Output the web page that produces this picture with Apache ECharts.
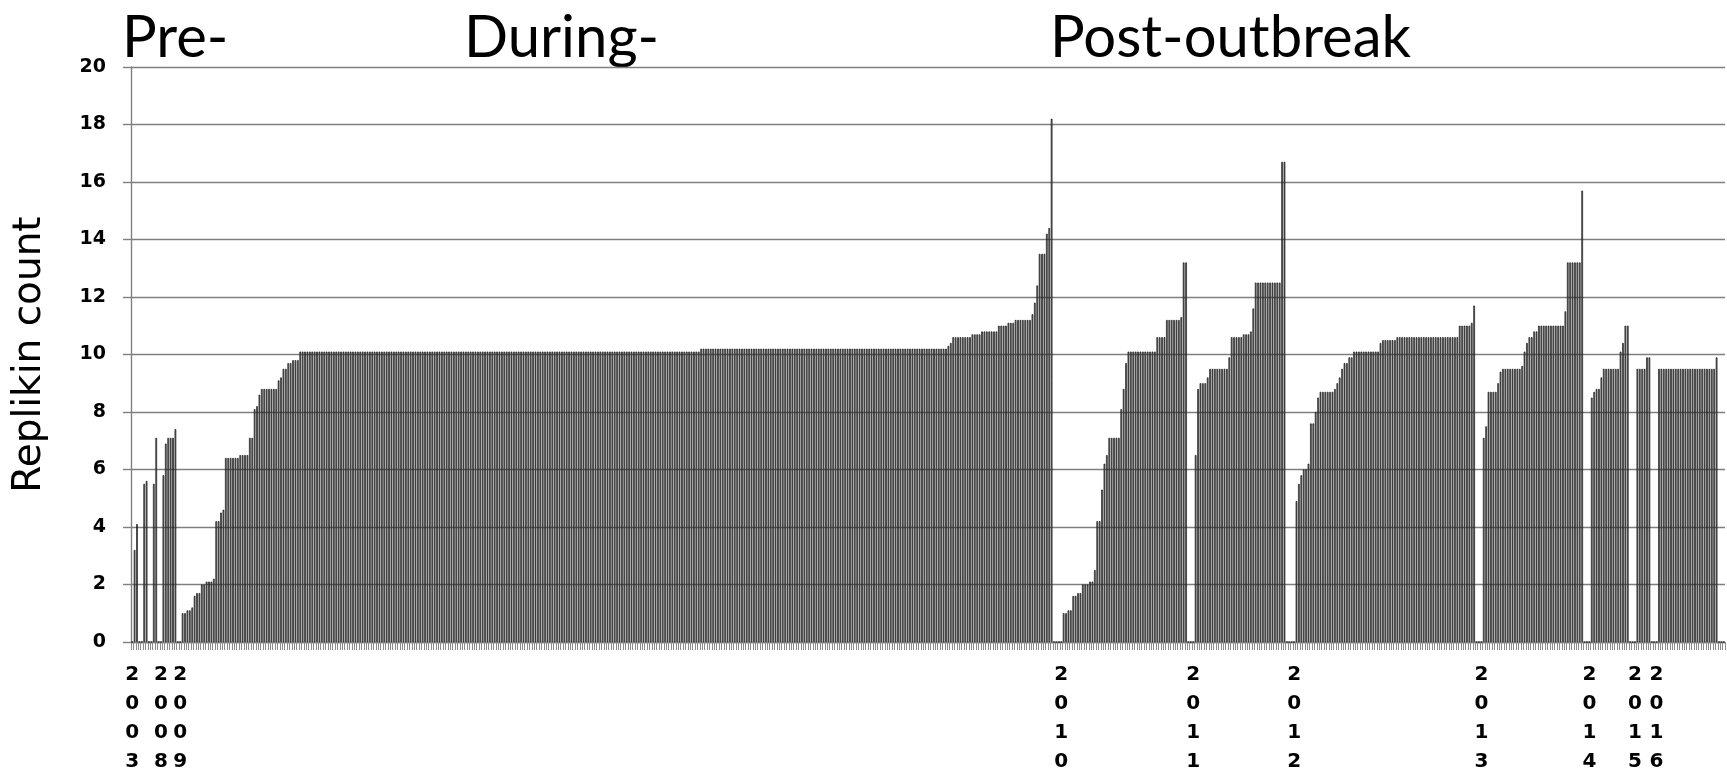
<!DOCTYPE html>
<html>
<head>
<meta charset="utf-8">
<script src="https://cdn.jsdelivr.net/npm/echarts@6/dist/echarts.min.js"></script>
<style>
html,body{margin:0;padding:0;background:#fff;}
#chart{width:1727px;height:781px;}
</style>
</head>
<body>
<div id="chart"></div>
<script>
// ---- tick labels ----
const yearLabels = ['2003','2008','2009','2010','2011','2012','2013','2014','2015','2016'];
const yTicks = [0, 2, 4, 6, 8, 10, 12, 14, 16, 18, 20];
const periodTitles = ['Pre-', 'During-', 'Post-outbreak'];

// ---- series values, one block per year (first entry of each block = year category) ----
const v2003 = [0, 3.2, 4.1, 0, 0, 5.5, 5.6, 0, 0, 5.5, 7.1, 0];
const v2008 = [0, 5.8, 6.9, 7.1, 7.1, 7.1, 7.4, 0];
const v2009rise = [
  0,
  1.0,1.0,1.1,1.1,1.2,1.6,1.7,1.7,2.0,2.0,2.1,2.1,2.1,2.2,
  4.2,4.2,4.5,4.6,
  6.4,6.4,6.4,6.4,6.4,6.4,
  6.5,6.5,6.5,6.5,
  7.1,7.1,
  8.1,8.2,8.6,
  8.8,8.8,8.8,8.8,8.8,8.8,8.8,
  9.1,9.2,9.5,9.5,9.7,9.7,9.8,9.8,9.8
];
const v2009flatA = [
  10.1,10.1,10.1,10.1,10.1,10.1,10.1,10.1,10.1,10.1,
  10.1,10.1,10.1,10.1,10.1,10.1,10.1,10.1,10.1,10.1,
  10.1,10.1,10.1,10.1,10.1,10.1,10.1,10.1,10.1,10.1,
  10.1,10.1,10.1,10.1,10.1,10.1,10.1,10.1,10.1,10.1,
  10.1,10.1,10.1,10.1,10.1,10.1,10.1,10.1,10.1,10.1,
  10.1,10.1,10.1,10.1,10.1,10.1,10.1,10.1,10.1,10.1,
  10.1,10.1,10.1,10.1,10.1,10.1,10.1,10.1,10.1,10.1,
  10.1,10.1,10.1,10.1,10.1,10.1,10.1,10.1,10.1,10.1,
  10.1,10.1,10.1,10.1,10.1,10.1,10.1,10.1,10.1,10.1,
  10.1,10.1,10.1,10.1,10.1,10.1,10.1,10.1,10.1,10.1,
  10.1,10.1,10.1,10.1,10.1,10.1,10.1,10.1,10.1,10.1,
  10.1,10.1,10.1,10.1,10.1,10.1,10.1,10.1,10.1,10.1,
  10.1,10.1,10.1,10.1,10.1,10.1,10.1,10.1,10.1,10.1,
  10.1,10.1,10.1,10.1,10.1,10.1,10.1,10.1,10.1,10.1,
  10.1,10.1,10.1,10.1,10.1,10.1,10.1,10.1,10.1,10.1,
  10.1,10.1,10.1,10.1,10.1,10.1,10.1,10.1,10.1,10.1,
  10.1,10.1,10.1,10.1,10.1,10.1,10.1
];
const v2009flatB = [
  10.2,10.2,10.2,10.2,10.2,10.2,10.2,10.2,10.2,10.2,
  10.2,10.2,10.2,10.2,10.2,10.2,10.2,10.2,10.2,10.2,
  10.2,10.2,10.2,10.2,10.2,10.2,10.2,10.2,10.2,10.2,
  10.2,10.2,10.2,10.2,10.2,10.2,10.2,10.2,10.2,10.2,
  10.2,10.2,10.2,10.2,10.2,10.2,10.2,10.2,10.2,10.2,
  10.2,10.2,10.2,10.2,10.2,10.2,10.2,10.2,10.2,10.2,
  10.2,10.2,10.2,10.2,10.2,10.2,10.2,10.2,10.2,10.2,
  10.2,10.2,10.2,10.2,10.2,10.2,10.2,10.2,10.2,10.2,
  10.2,10.2,10.2,10.2,10.2,10.2,10.2,10.2,10.2,10.2,
  10.2,10.2,10.2,10.2,10.2,10.2,10.2,10.2,10.2,10.2,
  10.2,10.2,10.2
];
const v2009peak = [
  10.3,10.4,
  10.6,10.6,10.6,10.6,10.6,10.6,10.6,10.6,
  10.7,10.7,10.7,10.7,
  10.8,10.8,10.8,10.8,10.8,10.8,10.8,
  11.0,11.0,11.0,11.0,
  11.1,11.1,11.1,
  11.2,11.2,11.2,11.2,11.2,11.2,11.2,
  11.4,11.8,12.4,13.5,13.5,13.5,14.2,14.4,18.2,
  0,0,0
];
const v2010 = [
  0,
  1.0,1.0,1.1,1.1,1.6,1.6,1.7,1.7,2.0,2.0,2.0,2.1,2.1,2.5,
  4.2,4.2,5.3,6.2,6.5,
  7.1,7.1,7.1,7.1,7.1,
  8.1,8.8,9.7,
  10.1,10.1,10.1,10.1,10.1,10.1,10.1,10.1,10.1,10.1,10.1,10.1,
  10.6,10.6,10.6,10.6,
  11.2,11.2,11.2,11.2,11.2,11.2,
  11.3,13.2,13.2,
  0,0
];
const v2011 = [
  0,
  6.5,8.8,9.0,9.0,9.0,9.2,
  9.5,9.5,9.5,9.5,9.5,9.5,9.5,9.5,
  9.9,
  10.6,10.6,10.6,10.6,10.6,
  10.7,10.7,10.7,
  10.8,11.6,
  12.5,12.5,12.5,12.5,12.5,12.5,12.5,12.5,12.5,12.5,12.5,
  16.7,16.7,
  0,0,0
];
const v2012 = [
  0,
  4.9,5.5,5.8,6.0,6.0,6.2,7.6,7.6,8.0,8.5,
  8.7,8.7,8.7,8.7,8.7,8.7,
  8.8,9.0,9.2,9.5,9.7,9.7,9.9,9.9,
  10.1,10.1,10.1,10.1,10.1,10.1,10.1,10.1,10.1,10.1,10.1,
  10.4,
  10.5,10.5,10.5,10.5,10.5,10.5,
  10.6,10.6,10.6,10.6,10.6,10.6,10.6,10.6,10.6,10.6,
  10.6,10.6,10.6,10.6,10.6,10.6,10.6,10.6,10.6,10.6,
  10.6,10.6,10.6,10.6,10.6,10.6,
  11.0,11.0,11.0,11.0,11.0,
  11.1,11.7,
  0,0
];
const v2013 = [
  0,
  7.1,7.5,8.7,8.7,8.7,8.7,9.0,9.4,
  9.5,9.5,9.5,9.5,9.5,9.5,9.5,9.5,
  9.6,10.1,10.4,10.6,10.6,10.8,10.8,
  11.0,11.0,11.0,11.0,11.0,11.0,11.0,11.0,11.0,11.0,11.0,
  11.5,
  13.2,13.2,13.2,13.2,13.2,13.2,
  15.7,
  0,0
];
const v2014 = [
  0,
  8.5,8.7,8.8,8.8,9.2,
  9.5,9.5,9.5,9.5,9.5,9.5,9.5,
  10.1,10.4,11.0,11.0,
  0,0
];
const v2015 = [0, 9.5,9.5,9.5,9.5, 9.9,9.9, 0,0];
const v2016 = [
  0,
  9.5,9.5,9.5,9.5,9.5,9.5,9.5,9.5,9.5,9.5,9.5,9.5,
  9.5,9.5,9.5,9.5,9.5,9.5,9.5,9.5,9.5,9.5,9.5,9.5,
  9.9,
  0,0,0
];

// ---- build category / value table ----
const blocks = [
  v2003, v2008, v2009rise.concat(v2009flatA, v2009flatB, v2009peak),
  v2010, v2011, v2012, v2013, v2014, v2015, v2016
];
const categories = [];
const values = [];
blocks.forEach(function (b, bi) {
  b.forEach(function (v, k) {
    categories.push(k === 0 ? yearLabels[bi] : '');
    values.push(v);
  });
});

const chart = echarts.init(document.getElementById('chart'), null, {renderer: 'canvas'});
chart.setOption({
  animation: false,
  backgroundColor: '#ffffff',
  grid: {left: 131, right: 2, top: 67, bottom: 139, containLabel: false},
  xAxis: {
    type: 'category',
    data: categories,
    boundaryGap: true,
    axisLine: {show: true, lineStyle: {color: '#808080', width: 1.4}},
    axisTick: {show: true, interval: 0, length: 8, lineStyle: {color: '#8c8c8c', width: 1}},
    axisLabel: {
      interval: 0,
      margin: 18,
      color: '#000',
      fontFamily: 'DejaVu Sans',
      fontWeight: 'bold',
      fontSize: 20,
      lineHeight: 29,
      formatter: function (v) { return v ? v.split('').join('\n') : ''; }
    },
    splitLine: {show: false}
  },
  yAxis: {
    type: 'value',
    min: yTicks[0],
    max: yTicks[yTicks.length - 1],
    interval: 2,
    name: 'Replikin count',
    nameLocation: 'middle',
    nameRotate: 90,
    nameGap: 82,
    nameTextStyle: {fontFamily: 'DejaVu Sans', fontSize: 39, color: '#000'},
    axisLine: {show: true, lineStyle: {color: '#808080', width: 1.4}},
    axisTick: {show: true, length: 8, lineStyle: {color: '#808080', width: 1.4}},
    axisLabel: {
      margin: 25,
      color: '#000',
      fontFamily: 'DejaVu Sans',
      fontWeight: 'bold',
      fontSize: 19
    },
    splitLine: {show: true, lineStyle: {color: '#7f7f7f', width: 1.4}}
  },
  series: [{
    type: 'bar',
    data: values,
    barWidth: 1.6,
    itemStyle: {color: '#7a7a7a', borderColor: '#000000', borderWidth: 0.6},
    emphasis: {disabled: true}
  }],
  graphic: [
    {type: 'text', left: 122, top: 9, style: {text: periodTitles[0], font: '58px Lato', fill: '#000'}},
    {type: 'text', left: 464, top: 9, style: {text: periodTitles[1], font: '58px Lato', fill: '#000'}},
    {type: 'text', left: 1050, top: 9, style: {text: periodTitles[2], font: '58px Lato', fill: '#000'}}
  ]
});
</script>
</body>
</html>
